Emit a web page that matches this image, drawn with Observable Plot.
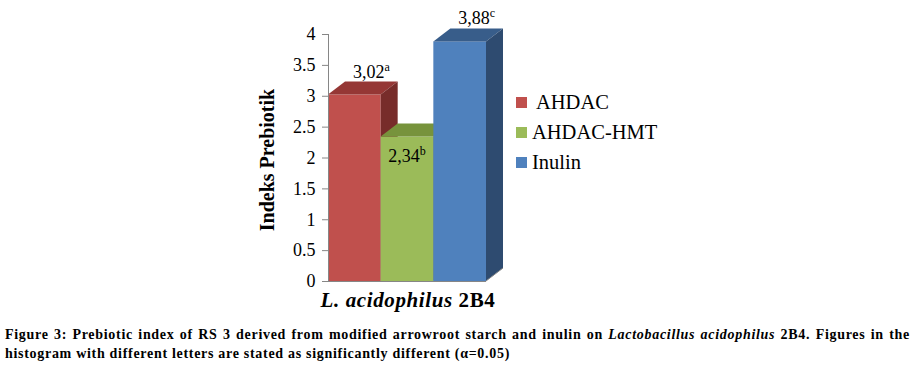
<!DOCTYPE html>
<html>
<head>
<meta charset="utf-8">
<script src="https://cdn.jsdelivr.net/npm/d3@7"></script>
<script src="https://cdn.jsdelivr.net/npm/@observablehq/plot@0.6"></script>
<style>
  body { margin: 0; background: #fff; font-family: 'Liberation Serif', serif; color: #000; }
  #wrap { position: relative; width: 924px; height: 377px; overflow: hidden; font-family: 'Liberation Serif', serif; }
  #chart { position: absolute; left: 0; top: 0; }
  #chart svg, #chart svg text { font-family: 'Liberation Serif', serif !important; }
  .legend { position: absolute; left: 516px; top: 87px; font-size: 20.5px; font-family: 'Liberation Serif', serif; }
  .legend .row { height: 30px; display: flex; align-items: center; line-height: 30px; white-space: pre; }
  .legend .sw { width: 11px; height: 11px; margin-right: 5px; flex: none; }
  .xlabel { position: absolute; left: 258px; width: 300px; top: 290px; line-height: 20px; text-align: center; font-size: 21px; letter-spacing: 0.6px; font-weight: bold; font-family: 'Liberation Serif', serif; }
  .ytitle { position: absolute; left: 167px; top: 150px; width: 200px; line-height: 20px; text-align: center; font-size: 20px; font-weight: bold; transform: rotate(-90deg); font-family: 'Liberation Serif', serif; }
  .caption { position: absolute; left: 5px; top: 325px; width: 905px; font-size: 14px; letter-spacing: 0.7px; font-weight: bold; line-height: 19px; font-family: 'Liberation Serif', serif; }
  .caption .l1 { text-align: justify; text-align-last: justify; white-space: nowrap; }
</style>
</head>
<body>
<div id="wrap">
  <div id="chart"></div>
  <div class="ytitle">Indeks Prebiotik</div>
  <div class="xlabel"><i>L. acidophilus</i> 2B4</div>
  <div class="legend" id="legend"></div>
  <div class="caption">
    <div class="l1">Figure 3: Prebiotic index of RS 3 derived from modified arrowroot starch and inulin on <i>Lactobacillus acidophilus</i> 2B4. Figures in the</div>
    <div>histogram with different letters are stated as significantly different (α=0.05)</div>
  </div>
</div>
<script>
// ---- data ----
const series = ["AHDAC", "AHDAC-HMT", "Inulin"];
const values = [3.02, 2.34, 3.88];
const valueLabels = ["3,02", "2,34", "3,88"];
const letters = ["a", "b", "c"];
const yTicks = [0, 0.5, 1, 1.5, 2, 2.5, 3, 3.5, 4];

// ---- styles ----
const FONT = "'Liberation Serif', serif";
const frontColors = ["#C0504D", "#9BBB59", "#4F81BD"];
const topColors = ["#953735", "#77933C", "#385D8A"];
const sideColors = ["#772C2A", "#5F7530", "#2E4B70"];
const DX = 17, DY = -13; // 3D depth offset in pixels
const gray = "#868686";

// top + side faces of bar i, drawn with Plot's scales
function prism(i) {
  return (index, {x, y}) => {
    const x0 = x(i), x1 = x(i + 1), yt = y(values[i]), yb = y(0);
    const g = d3.create("svg:g");
    g.append("polygon")
      .attr("points", [[x0, yt], [x1, yt], [x1 + DX, yt + DY], [x0 + DX, yt + DY]].join(" "))
      .attr("fill", topColors[i]);
    g.append("polygon")
      .attr("points", [[x1, yt], [x1 + DX, yt + DY], [x1 + DX, yb + DY], [x1, yb]].join(" "))
      .attr("fill", sideColors[i]);
    return g.node();
  };
}

function floorEdge(index, {x, y}) {
  const n = values.length;
  return d3.create("svg:line")
    .attr("x1", x(n)).attr("y1", y(0))
    .attr("x2", x(n) + DX).attr("y2", y(0) + DY)
    .attr("stroke", gray).node();
}

function dataLabels(index, {x, y}) {
  const g = d3.create("svg:g").style("font-family", FONT).attr("fill", "#000");
  values.forEach((v, i) => {
    const inside = i > 0 && v < values[i - 1];
    const cx = (x(i) + x(i + 1)) / 2 + (inside ? 0 : DX);
    const by = inside ? y(v) + 25 : y(v) + DY - 4;
    const t = g.append("text").attr("x", cx).attr("y", by)
      .attr("text-anchor", "middle").style("font-size", "18px").style("font-family", FONT);
    t.append("tspan").text(valueLabels[i]);
    t.append("tspan").attr("dy", -7).style("font-size", "12px").text(letters[i]);
  });
  return g.node();
}

const marks = [];
series.forEach((s, i) => {
  marks.push(Plot.rectY([i], {x1: d => d, x2: d => d + 1, y: d => values[d], fill: frontColors[i]}));
  marks.push(prism(i));
});
marks.push(floorEdge);
marks.push(Plot.ruleY([0], {x1: 0, x2: series.length, stroke: gray}));
marks.push(Plot.ruleX([0], {y1: 0, y2: 4, stroke: gray}));
marks.push(Plot.axisY(yTicks, {tickSize: 6, tickPadding: 7, stroke: gray, tickFormat: d => String(d), label: null}));
marks.push(dataLabels);

const chart = Plot.plot({
  width: 924,
  height: 318,
  marginLeft: 328,
  marginRight: 438,
  marginTop: 34,
  marginBottom: 37,
  x: {domain: [0, series.length], axis: null},
  y: {domain: [0, 4], axis: null},
  style: {fontFamily: FONT, fontSize: "18px", color: "#000", background: "transparent", overflow: "visible"},
  marks
});
document.getElementById("chart").append(chart);

// legend
const legend = d3.select("#legend");
series.forEach((s, i) => {
  const row = legend.append("div").attr("class", "row");
  row.append("div").attr("class", "sw").style("background", frontColors[i]);
  row.append("span").text(i === 0 ? " " + s : s);
});
</script>
</body>
</html>
